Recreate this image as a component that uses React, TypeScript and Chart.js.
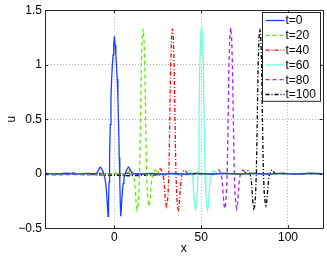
import React, { useEffect, useRef } from "react";
import { Chart, registerables } from "chart.js";

Chart.register(...registerables);

// ---- data ----
const seriesLabels = ["t=0", "t=20", "t=40", "t=60", "t=80", "t=100"];
const xTicks = [0, 50, 100];
const yTicks = [-0.5, 0, 0.5, 1, 1.5];

const t0X = [-40, -34, -28, -22, -16, -11, -10, -9, -8.5, -8, -7, -6.2, -5.5, -5, -4.5, -4, -3.65, -3.4, -3.1, -2.8, -2.4, -2, -1.6, -1.2, -0.8, -0.4, 0, 0.4, 0.8, 1.2, 1.6, 2, 2.4, 2.8, 3.1, 3.4, 3.65, 4, 4.5, 5, 5.5, 6.2, 7, 8, 8.5, 9, 10, 11, 16, 22, 28, 34, 40, 48, 56, 64, 72, 80, 88, 96, 104, 112, 120];
const t0Y = [0.004, -0.004, 0.005, -0.003, 0.004, 0, 0.01, 0.04, 0.055, 0.06, 0.035, 0.0, -0.04, -0.09, -0.18, -0.31, -0.39, -0.28, -0.08, 0.15, 0.45, 0.7, 0.87, 0.99, 1.09, 1.18, 1.26, 1.18, 1.09, 0.99, 0.87, 0.7, 0.45, 0.15, -0.08, -0.28, -0.39, -0.31, -0.18, -0.09, -0.04, 0.0, 0.035, 0.06, 0.055, 0.04, 0.01, 0, -0.002, 0.004, -0.004, 0.003, -0.004, 0.004, -0.003, 0.004, -0.004, 0.003, -0.004, 0.003, -0.003, 0.004, 0.002];

const t20X = [-40, -33, -26, -19, -12, -6, 0, 4, 7.5, 8.5, 9, 9.5, 10, 10.5, 11, 11.5, 12, 12.5, 13, 13.5, 14, 14.5, 15, 15.5, 16, 16.5, 17, 17.5, 18, 18.5, 19, 19.5, 20, 20.5, 21, 21.5, 22, 22.5, 23, 23.5, 24, 24.5, 25.5, 30, 38, 46, 54, 62, 70, 78, 86, 94, 102, 110, 120];
const t20Y = [0.003, -0.004, 0.004, -0.003, 0.005, -0.006, 0.008, -0.005, 0, 0.02, 0.035, 0.04, 0.035, 0.02, -0.01, -0.05, -0.15, -0.27, -0.33, -0.3, -0.2, 0.02, 0.5, 1.0, 1.25, 1.33, 1.25, 0.99, 0.49, 0.02, -0.18, -0.27, -0.3, -0.25, -0.14, -0.05, -0.01, 0.015, 0.03, 0.035, 0.03, 0.015, 0, 0.004, -0.004, 0.003, -0.004, 0.004, -0.003, 0.004, -0.004, 0.003, -0.003, 0.004, 0.002];

const t40X = [-40, -32, -24, -16, -8, 0, 8, 16, 21, 24.4, 25.4, 25.9, 26.4, 26.9, 27.4, 27.9, 28.4, 28.9, 29.4, 29.9, 30.4, 30.9, 31.4, 31.9, 32.4, 32.9, 33.4, 33.9, 34.4, 34.9, 35.4, 35.9, 36.4, 36.9, 37.4, 37.9, 38.4, 38.9, 39.4, 39.9, 40.4, 40.9, 41.4, 42.4, 47, 55, 63, 71, 79, 87, 95, 103, 111, 120];
const t40Y = [0.004, -0.004, 0.005, -0.004, 0.004, -0.005, 0.005, -0.004, 0.003, 0, 0.02, 0.035, 0.045, 0.04, 0.02, -0.01, -0.05, -0.14, -0.25, -0.3, -0.28, -0.19, 0.02, 0.5, 1.0, 1.25, 1.33, 1.25, 1.0, 0.5, 0.02, -0.2, -0.31, -0.33, -0.27, -0.15, -0.05, -0.01, 0.02, 0.03, 0.035, 0.03, 0.015, 0, 0.004, -0.003, 0.004, -0.004, 0.003, -0.004, 0.004, -0.003, 0.003, 0.002];

const t60X = [-40, -32, -24, -16, -8, 0, 8, 16, 24, 32, 38, 41.2, 42.2, 42.7, 43.2, 43.7, 44.2, 44.7, 45.2, 45.7, 46.2, 46.7, 47.2, 47.7, 48.2, 48.7, 49.2, 49.7, 50.2, 50.7, 51.2, 51.7, 52.2, 52.7, 53.2, 53.7, 54.2, 54.7, 55.2, 55.7, 56.2, 56.7, 57.2, 57.7, 58.2, 59.2, 64, 72, 80, 88, 96, 104, 112, 120];
const t60Y = [0.003, -0.004, 0.004, -0.003, 0.004, -0.004, 0.005, -0.004, 0.004, -0.003, 0.004, 0, 0.015, 0.025, 0.03, 0.025, 0.012, -0.015, -0.06, -0.16, -0.28, -0.33, -0.3, -0.2, 0.02, 0.5, 1.01, 1.27, 1.35, 1.27, 1.01, 0.5, 0.02, -0.2, -0.3, -0.33, -0.28, -0.16, -0.06, -0.015, 0.012, 0.025, 0.03, 0.025, 0.015, 0, 0.004, -0.004, 0.003, -0.004, 0.004, -0.003, 0.003, 0.002];

const t80X = [-40, -32, -24, -16, -8, 0, 8, 16, 24, 32, 40, 48, 54, 58, 59, 59.5, 60, 60.5, 61, 61.5, 62, 62.5, 63, 63.5, 64, 64.5, 65, 65.5, 66, 66.5, 67, 67.5, 68, 68.5, 69, 69.5, 70, 70.5, 71, 71.5, 72, 72.5, 73, 73.5, 74, 74.5, 75, 76, 81, 89, 97, 105, 113, 120];
const t80Y = [-0.008, -0.01, -0.006, -0.01, -0.008, -0.004, -0.01, -0.006, -0.009, -0.005, -0.008, -0.006, -0.004, 0, 0.02, 0.03, 0.035, 0.03, 0.015, -0.01, -0.05, -0.15, -0.27, -0.32, -0.29, -0.19, 0.02, 0.5, 1.0, 1.26, 1.34, 1.26, 1.0, 0.5, 0.02, -0.19, -0.29, -0.32, -0.27, -0.15, -0.05, -0.01, 0.015, 0.03, 0.035, 0.03, 0.015, 0, 0.003, -0.004, 0.003, -0.003, 0.003, 0.002];

const t100X = [-40, -32, -24, -16, -8, 0, 8, 16, 24, 32, 40, 48, 56, 64, 70, 74.8, 75.8, 76.3, 76.8, 77.3, 77.8, 78.3, 78.8, 79.3, 79.8, 80.3, 80.8, 81.3, 81.8, 82.3, 82.8, 83.3, 83.8, 84.3, 84.8, 85.3, 85.8, 86.3, 86.8, 87.3, 87.8, 88.3, 88.8, 89.3, 89.8, 90.3, 90.8, 91.3, 91.8, 92.8, 98, 106, 114, 120];
const t100Y = [0.002, -0.003, 0.003, -0.004, -0.01, -0.015, -0.018, -0.015, -0.01, -0.006, -0.004, 0.002, -0.003, 0.003, -0.002, 0, 0.015, 0.025, 0.03, 0.025, 0.012, -0.012, -0.05, -0.15, -0.27, -0.32, -0.3, -0.2, 0.02, 0.5, 1.0, 1.25, 1.33, 1.25, 0.99, 0.48, 0.02, -0.17, -0.26, -0.29, -0.25, -0.15, -0.05, -0.01, 0.015, 0.03, 0.035, 0.03, 0.015, 0, 0.003, -0.003, 0.002, 0.001];

const seriesX = [t0X, t20X, t40X, t60X, t80X, t100X];
const seriesY = [t0Y, t20Y, t40Y, t60Y, t80Y, t100Y];
const seriesColors = ["#1a40ff", "#5cf000", "#ff0000", "#70ffd8", "#aa22ff", "#000000"];
const seriesDash: number[][] = [[], [4, 3], [4, 2, 1, 2], [], [4, 3], [4, 2, 1, 2]];

const FONT = "'Liberation Sans', Arial, Helvetica, sans-serif";

const fmt = (v: number) => (v < 0 ? "\u2212" + Math.abs(v) : String(v));

const axesBoxPlugin = {
  id: "axesBox",
  afterDatasetsDraw(chart: any) {
    const { ctx, chartArea } = chart;
    const { left, right, top, bottom } = chartArea;
    const xs = chart.scales.x;
    const ys = chart.scales.y;
    const tl = 3;
    ctx.save();
    ctx.strokeStyle = "#262626";
    ctx.lineWidth = 1;
    ctx.setLineDash([]);
    ctx.beginPath();
    ctx.rect(Math.round(left) + 0.5, Math.round(top) + 0.5, Math.round(right) - Math.round(left), Math.round(bottom) - Math.round(top));
    ctx.stroke();
    ctx.beginPath();
    xTicks.forEach((v) => {
      const px = Math.round(xs.getPixelForValue(v)) + 0.5;
      ctx.moveTo(px, bottom);
      ctx.lineTo(px, bottom - tl);
      ctx.moveTo(px, top);
      ctx.lineTo(px, top + tl);
    });
    yTicks.forEach((v) => {
      const py = Math.round(ys.getPixelForValue(v)) + 0.5;
      ctx.moveTo(left, py);
      ctx.lineTo(left + tl, py);
      ctx.moveTo(right, py);
      ctx.lineTo(right - tl, py);
    });
    ctx.stroke();
    ctx.restore();
  },
};

const boxLegendPlugin = {
  id: "boxLegend",
  afterDraw(chart: any) {
    const { ctx, chartArea } = chart;
    const ds = chart.data.datasets;
    const rowH = 14.8;
    const w = 58;
    const h = rowH * ds.length;
    const x0 = Math.round(chartArea.right - 3 - w) + 0.5;
    const y0 = Math.round(chartArea.top + 2) + 0.5;
    ctx.save();
    ctx.fillStyle = "#ffffff";
    ctx.fillRect(x0, y0, w, h);
    ctx.strokeStyle = "#262626";
    ctx.lineWidth = 1;
    ctx.setLineDash([]);
    ctx.strokeRect(x0, y0, w, h);
    ds.forEach((d: any, i: number) => {
      const cy = y0 + 8 + i * rowH;
      ctx.setLineDash(d.borderDash || []);
      ctx.strokeStyle = d.borderColor;
      ctx.lineWidth = d.borderWidth;
      ctx.beginPath();
      ctx.moveTo(x0 + 3, cy);
      ctx.lineTo(x0 + 22, cy);
      ctx.stroke();
      ctx.setLineDash([]);
      ctx.fillStyle = "#000";
      ctx.font = `12px ${FONT}`;
      ctx.textBaseline = "middle";
      ctx.textAlign = "left";
      ctx.fillText(d.label, x0 + 23, cy + 0.5);
    });
    ctx.restore();
  },
};

export default function App() {
  const ref = useRef<HTMLCanvasElement | null>(null);
  useEffect(() => {
    document.body.style.margin = "0";
    const canvas = ref.current;
    if (!canvas) return;
    const datasets = seriesLabels.map((label, i) => ({
      label,
      data: seriesX[i].map((x, j) => ({ x, y: seriesY[i][j] })),
      borderColor: seriesColors[i],
      backgroundColor: seriesColors[i],
      borderWidth: 1.3,
      borderDash: seriesDash[i],
      pointRadius: 0,
      tension: 0,
      fill: false,
    }));
    const chart = new Chart(canvas, {
      type: "line",
      data: { datasets },
      options: {
        animation: false,
        responsive: false,
        devicePixelRatio: 1,
        layout: { padding: { left: 0, top: 9.5, right: 4.3, bottom: 0 } },
        plugins: {
          legend: { display: false },
          tooltip: { enabled: false },
        },
        scales: {
          x: {
            type: "linear",
            min: -40,
            max: 120,
            afterBuildTicks: (scale: any) => {
              scale.ticks = xTicks.map((v) => ({ value: v }));
            },
            afterFit: (scale: any) => {
              scale.height = 28.7;
            },
            grid: { color: "#b4b4b4", drawTicks: false, lineWidth: 1 },
            border: { display: false, dash: [1, 2] },
            ticks: {
              color: "#000",
              padding: 2,
              maxRotation: 0,
              font: { family: FONT, size: 12 },
              callback: (v: any) => fmt(Number(v)),
            },
            title: {
              display: true,
              text: "x",
              color: "#000",
              font: { family: FONT, size: 12 },
              padding: { top: 0, bottom: 1.5 },
            },
          },
          y: {
            type: "linear",
            min: -0.5,
            max: 1.5,
            afterBuildTicks: (scale: any) => {
              scale.ticks = yTicks.map((v) => ({ value: v }));
            },
            afterFit: (scale: any) => {
              scale.width = 45;
            },
            grid: { color: "#b4b4b4", drawTicks: false, lineWidth: 1 },
            border: { display: false, dash: [1, 2] },
            ticks: {
              color: "#000",
              padding: 3,
              font: { family: FONT, size: 12 },
              callback: (v: any) => fmt(Number(v)),
            },
            title: {
              display: true,
              text: "u",
              color: "#000",
              font: { family: FONT, size: 12 },
              padding: { top: 4, bottom: 0 },
            },
          },
        },
      },
      plugins: [axesBoxPlugin, boxLegendPlugin],
    });
    return () => chart.destroy();
  }, []);
  return (
    <div style={{ width: 327, height: 257 }}>
      <canvas ref={ref} width={327} height={257} style={{ display: "block", width: 327, height: 257 }} />
    </div>
  );
}
